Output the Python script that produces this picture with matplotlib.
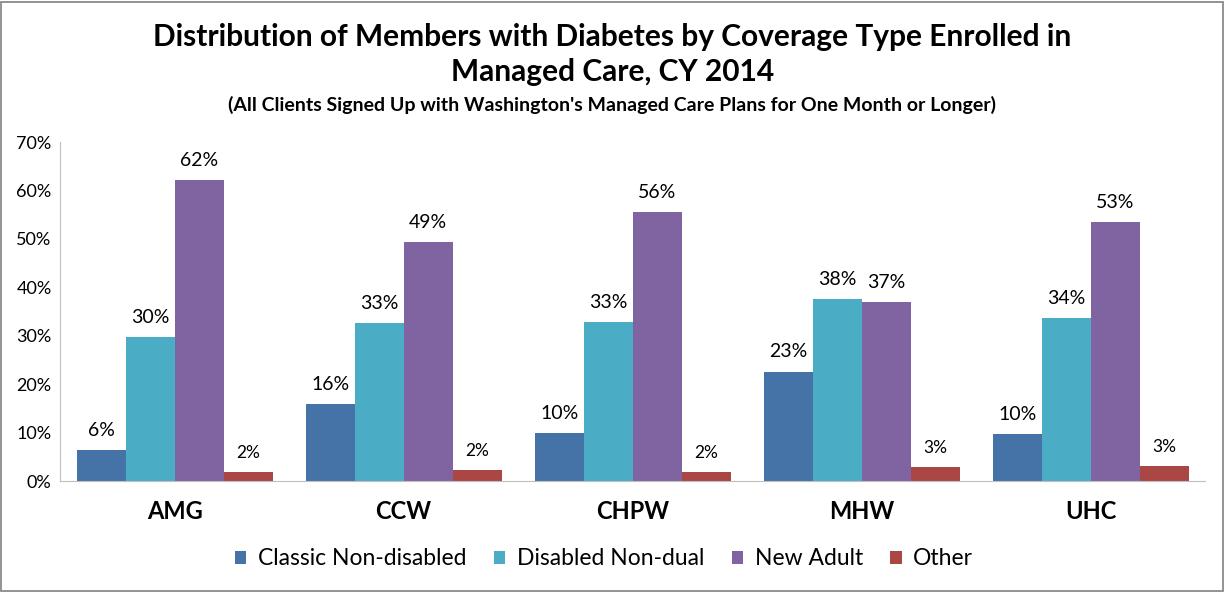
import matplotlib
matplotlib.use('Agg')
import matplotlib.pyplot as plt
import numpy as np

plans = ["AMG", "CCW", "CHPW", "MHW", "UHC"]
series = ["Classic Non-disabled", "Disabled Non-dual", "New Adult", "Other"]
classic = [6.4, 15.9, 9.9, 22.6, 9.7]
disabled = [29.7, 32.6, 32.8, 37.6, 33.7]
new_adult = [62.2, 49.4, 55.5, 37.0, 53.4]
other = [1.9, 2.3, 1.9, 2.9, 3.1]
colors = ["#4572a7", "#4bacc6", "#8064a2", "#aa4643"]

plt.rcParams['font.family'] = ['Lato', 'DejaVu Sans']

fig = plt.figure(figsize=(12.25, 5.92), dpi=100)
ax = fig.add_axes([0.049, 0.1875, 0.935, 0.5725])

x = np.arange(len(plans))
w = 0.214
values = [classic, disabled, new_adult, other]
for i, (name, vals, col) in enumerate(zip(series, values, colors)):
	pos = x + (i - 1.5) * w
	ax.bar(pos, vals, width=w, color=col, label=name)
	for p, v in zip(pos, vals):
		fs = 12.5 if name == "Other" else 14
		ax.text(p, v + 2.3, "%d%%" % round(v), ha='center', va='bottom', fontsize=fs)

ax.set_xlim(-0.5, 4.5)
ax.set_ylim(0, 70)
ax.set_yticks(range(0, 71, 10))
ax.set_yticklabels(["%d%%" % t for t in range(0, 71, 10)], fontsize=13)
ax.set_xticks(x)
ax.set_xticklabels(plans, fontsize=17, fontweight='bold')
ax.tick_params(axis='x', length=0, pad=14)
ax.tick_params(axis='y', length=0, pad=6)
for s in ['top', 'right']:
	ax.spines[s].set_visible(False)
for s in ['left', 'bottom']:
	ax.spines[s].set_color('#bfbfbf')

fig.text(0.5, 0.937, "Distribution of Members with Diabetes by Coverage Type Enrolled in",
	ha='center', va='center', fontsize=21.5, fontweight='bold')
fig.text(0.5, 0.878, "Managed Care, CY 2014", ha='center', va='center', fontsize=21.5, fontweight='bold')
fig.text(0.5, 0.822, "(All Clients Signed Up with Washington's Managed Care Plans for One Month or Longer)",
	ha='center', va='center', fontsize=14, fontweight='bold')

ax.legend(loc='center', bbox_to_anchor=(0.475, -0.23), ncol=4, frameon=False, fontsize=16.5,
	handlelength=0.5, handleheight=0.5, handletextpad=0.5, columnspacing=1.2)

fig.patches.append(plt.Rectangle((0.001, 0.002), 0.997, 0.995, transform=fig.transFigure,
	fill=False, edgecolor='#808080', linewidth=1.2))

fig.savefig("out.png", dpi=100)
